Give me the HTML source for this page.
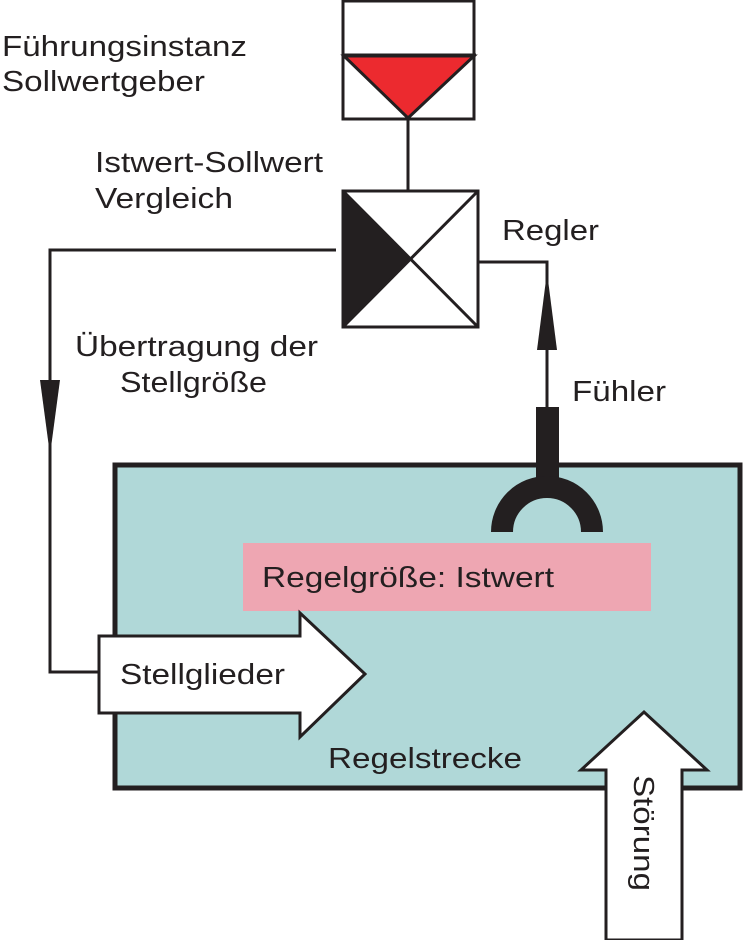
<!DOCTYPE html>
<html><head><meta charset="utf-8"><style>
body{margin:0;background:#fff;}
svg{display:block;font-family:"Liberation Sans",sans-serif;}
</style></head><body>
<svg width="745" height="940" viewBox="0 0 745 940">
<rect x="115" y="465" width="625" height="323" fill="#b0d8d8" stroke="#231f20" stroke-width="5"/>
<rect x="243" y="543" width="408" height="68" fill="#eea6b2"/>
<g font-size="29" fill="#231f20">
<text x="262" y="587" textLength="292" lengthAdjust="spacingAndGlyphs">Regelgröße: Istwert</text>
<text x="328" y="768" textLength="194" lengthAdjust="spacingAndGlyphs">Regelstrecke</text>
</g>
<rect x="343" y="1" width="131" height="118" fill="#fff" stroke="#231f20" stroke-width="3"/>
<polygon points="344,56 474,56 408,118" fill="#ec2a2f" stroke="#231f20" stroke-width="3"/>
<line x1="342" y1="55" x2="476" y2="55" stroke="#231f20" stroke-width="3"/>
<line x1="408" y1="120" x2="408" y2="191" stroke="#231f20" stroke-width="3"/>
<rect x="343" y="191" width="135" height="136" fill="#fff" stroke="#231f20" stroke-width="3"/>
<polygon points="343,191 343,327 410,259" fill="#231f20"/>
<line x1="343" y1="191" x2="478" y2="327" stroke="#231f20" stroke-width="3"/>
<line x1="343" y1="327" x2="478" y2="191" stroke="#231f20" stroke-width="3"/>
<polyline points="336,250 50,250 50,672 100,672" fill="none" stroke="#231f20" stroke-width="3"/>
<polygon points="40,380 60,380 50,455" fill="#231f20"/>
<polyline points="478,262 547,262 547,410" fill="none" stroke="#231f20" stroke-width="3"/>
<polygon points="537,350 557,350 547,272" fill="#231f20"/>
<rect x="536" y="407" width="23" height="75" fill="#231f20"/>
<path d="M 502 532 A 45 45 0 0 1 592 532" fill="none" stroke="#231f20" stroke-width="22"/>
<polygon points="99,636 300,636 300,613 365,674 300,737 300,713 99,713" fill="#fff" stroke="#231f20" stroke-width="3"/>
<text x="120" y="684" font-size="29" fill="#231f20" textLength="165" lengthAdjust="spacingAndGlyphs">Stellglieder</text>
<polygon points="606,940 606,770 581,770 644,712 707,770 682,770 682,940" fill="#fff" stroke="#231f20" stroke-width="3"/>
<text transform="translate(634,775) rotate(90)" font-size="29" fill="#231f20" textLength="116" lengthAdjust="spacingAndGlyphs">Störung</text>
<g font-size="29" fill="#231f20">
<text x="2" y="56" textLength="245" lengthAdjust="spacingAndGlyphs">Führungsinstanz</text>
<text x="2" y="91" textLength="203" lengthAdjust="spacingAndGlyphs">Sollwertgeber</text>
<text x="95" y="172" textLength="228" lengthAdjust="spacingAndGlyphs">Istwert-Sollwert</text>
<text x="95" y="208" textLength="138" lengthAdjust="spacingAndGlyphs">Vergleich</text>
<text x="502" y="240" textLength="97" lengthAdjust="spacingAndGlyphs">Regler</text>
<text x="75" y="356" textLength="243" lengthAdjust="spacingAndGlyphs">Übertragung der</text>
<text x="120" y="392" textLength="147" lengthAdjust="spacingAndGlyphs">Stellgröße</text>
<text x="572" y="401" textLength="94" lengthAdjust="spacingAndGlyphs">Fühler</text>
</g>
</svg>
</body></html>
